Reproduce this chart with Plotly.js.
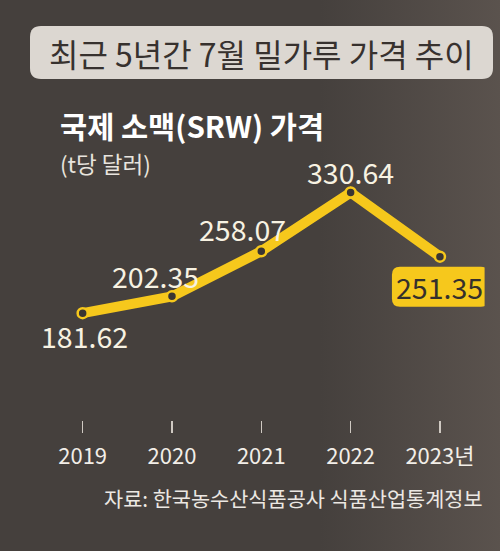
<!DOCTYPE html>
<html>
<head>
<meta charset="utf-8">
<script src="https://cdn.plot.ly/plotly-3.0.1.min.js"></script>
<style>
  html, body { margin: 0; padding: 0; background: #45403d; }
  #chart { width: 500px; height: 551px; }
</style>
</head>
<body>
<div id="chart"></div>
<script>
// 국제 소맥(SRW) 7월 가격, t당 달러
const years = [2019, 2020, 2021, 2022, 2023];
const yearLabels = ['2019', '2020', '2021', '2022', '2023년'];
const prices = [181.62, 202.35, 258.07, 330.64, 251.35];

const W = 500, H = 551;
const FONT = '"Noto Sans CJK KR", "Noto Sans", sans-serif';
const YELLOW = '#f6c81c';
const BG = '#45403d';

// paper coordinates span the whole figure (margins are zero)
const px = v => v / W;
const py = v => 1 - v / H;

// rounded rectangle path in paper coordinates from pixel box
function roundRect(x0, y0, x1, y1, r) {
  const a = px(x0), b = px(x1), rx = r / W;
  const top = py(y0), bot = py(y1), ry = r / H;
  return `M ${a + rx},${top} L ${b - rx},${top} Q ${b},${top} ${b},${top - ry} ` +
         `L ${b},${bot + ry} Q ${b},${bot} ${b - rx},${bot} L ${a + rx},${bot} ` +
         `Q ${a},${bot} ${a},${bot + ry} L ${a},${top - ry} Q ${a},${top} ${a + rx},${top} Z`;
}

// rounded rectangle in pixel offsets around an anchor (y positive up)
function roundRectPx(x0, y0, x1, y1, r) {
  return `M ${x0 + r},${y1} L ${x1 - r},${y1} Q ${x1},${y1} ${x1},${y1 - r} ` +
         `L ${x1},${y0 + r} Q ${x1},${y0} ${x1 - r},${y0} L ${x0 + r},${y0} ` +
         `Q ${x0},${y0} ${x0},${y0 + r} L ${x0},${y1 - r} Q ${x0},${y1} ${x0 + r},${y1} Z`;
}

const xIdx = years.map((_, i) => i);

// label offsets (pixels) relative to each point
const labelShift = [[2, -22], [-16, 21], [-19, 23], [0, 21], [0, -30]];

const trace = {
  x: xIdx,
  y: prices,
  type: 'scatter',
  mode: 'lines+markers',
  line: { color: YELLOW, width: 10 },
  marker: { size: 10, color: '#3a3532', line: { color: YELLOW, width: 2.5 } },
  hoverinfo: 'skip',
  cliponaxis: false
};

const last = prices.length - 1;

const annotations = prices.map((v, i) => ({
  x: i, y: v, xref: 'x', yref: 'y',
  xanchor: 'center', yanchor: 'middle',
  text: v.toFixed(2),
  showarrow: false, borderpad: 0,
  xshift: labelShift[i][0], yshift: labelShift[i][1],
  font: { family: FONT, size: 28.5, color: i === last ? '#35302c' : '#f7f2e2' }
}));

annotations.push(
  {
    xref: 'paper', yref: 'paper', x: px(261.5), y: py(53),
    xanchor: 'center', yanchor: 'middle',
    text: '최근 5년간 7월 밀가루 가격 추이', showarrow: false, borderpad: 0,
    font: { family: FONT, size: 32, color: '#37312e' }
  },
  {
    xref: 'paper', yref: 'paper', x: px(59), y: py(125),
    xanchor: 'left', yanchor: 'middle',
    text: '<b>국제 소맥(SRW) 가격</b>', showarrow: false, borderpad: 0,
    font: { family: FONT, size: 29.5, color: '#ffffff' }
  },
  {
    xref: 'paper', yref: 'paper', x: px(59), y: py(163),
    xanchor: 'left', yanchor: 'middle',
    text: '(t당 달러)', showarrow: false, borderpad: 0,
    font: { family: FONT, size: 22.5, color: '#e8e4de' }
  },
  {
    xref: 'paper', yref: 'paper', x: px(293.5), y: py(498),
    xanchor: 'center', yanchor: 'middle',
    text: '자료: 한국농수산식품공사 식품산업통계정보', showarrow: false, borderpad: 0,
    font: { family: FONT, size: 20.8, color: '#ece8e3' }
  }
);

const shapes = [
  // title pill
  {
    type: 'path', xref: 'paper', yref: 'paper', layer: 'below',
    path: roundRect(30, 26, 493, 79, 11),
    fillcolor: '#dcd7d1', line: { width: 0 }
  },
  // highlight box behind the latest value
  {
    type: 'path', xref: 'x', yref: 'y', xsizemode: 'pixel', ysizemode: 'pixel',
    xanchor: last, yanchor: prices[last], layer: 'above',
    path: roundRectPx(-48, -50, 49, -10, 8),
    fillcolor: YELLOW, line: { width: 0 }
  }
];

// soft lighter haze along the right edge
const haze = 'data:image/svg+xml;utf8,' + encodeURIComponent(
  '<svg xmlns="http://www.w3.org/2000/svg" width="200" height="551">' +
  '<defs><linearGradient id="g" x1="0" y1="0" x2="1" y2="0">' +
  '<stop offset="0" stop-color="#7a6e66" stop-opacity="0"/>' +
  '<stop offset="1" stop-color="#7a6e66" stop-opacity="0.4"/>' +
  '</linearGradient></defs><rect width="200" height="551" fill="url(#g)"/></svg>');

const layout = {
  width: W, height: H,
  margin: { l: 0, r: 0, t: 0, b: 0 },
  paper_bgcolor: BG,
  plot_bgcolor: 'rgba(0,0,0,0)',
  showlegend: false,
  xaxis: {
    domain: [38 / W, 484.6 / W],
    range: [-0.5, 4.5],
    tickvals: xIdx,
    ticktext: yearLabels,
    ticks: 'outside', ticklen: 12, tickwidth: 1.5, tickcolor: '#cfc9c2',
    ticklabelstandoff: 5,
    showgrid: false, zeroline: false, showline: false,
    tickfont: { family: FONT, size: 22, color: '#f2eee8' },
    automargin: false,
    fixedrange: true
  },
  yaxis: {
    domain: [1 - 420 / H, 1 - 100 / H],
    range: [49.7, 444.8],
    visible: false, showgrid: false, zeroline: false,
    fixedrange: true
  },
  images: [{
    source: haze, xref: 'paper', yref: 'paper',
    x: px(320), y: 1, sizex: px(180), sizey: 1,
    sizing: 'stretch', layer: 'below', xanchor: 'left', yanchor: 'top'
  }],
  shapes: shapes,
  annotations: annotations
};

Plotly.newPlot('chart', [trace], layout, { displayModeBar: false, staticPlot: true });
</script>
</body>
</html>
